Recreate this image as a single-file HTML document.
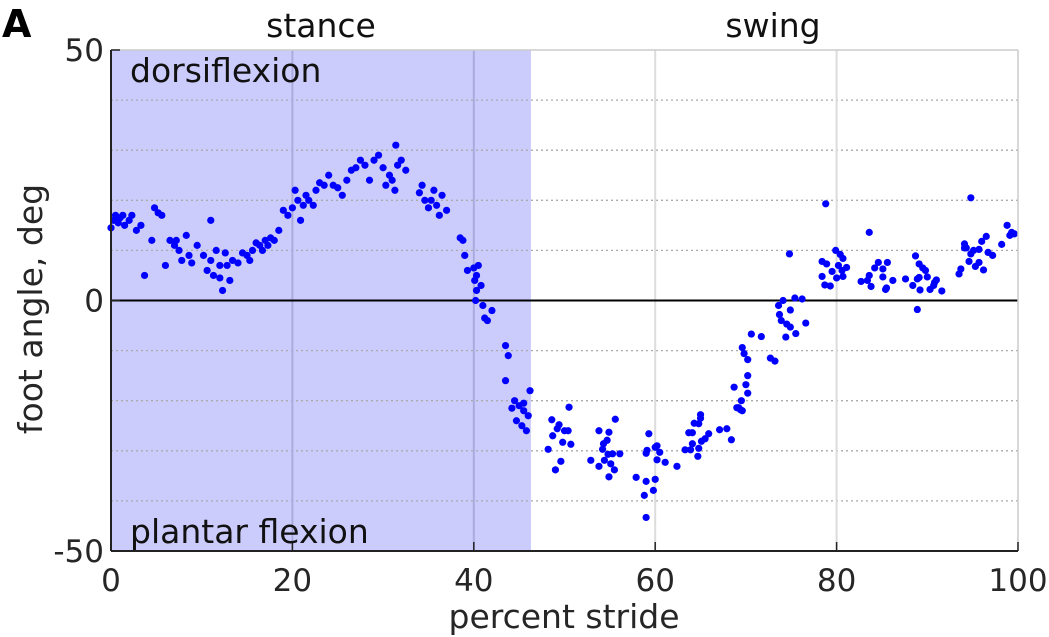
<!DOCTYPE html>
<html><head><meta charset="utf-8"><style>
body{margin:0;background:#fff;}
svg{display:block;font-family:"DejaVu Sans","Liberation Sans",sans-serif;}
</style></head><body>
<svg id="chart" width="1049" height="637" viewBox="0 0 1049 637">
<g id="bg"></g><g id="grid"></g><g id="dots"></g><g id="axes"></g>
</svg>
<script>
const xTicks=[0,20,40,60,80,100];
const yTickLabels=[50,0,-50];
const yGrid=[40,30,20,10,-10,-20,-30,-40];
const stanceEnd=46.3;
const xs=[0,0.3,0.5,0.8,1,1.3,1.5,2,2.3,2.8,3.3,3.7,4.5,4.8,5.2,5.6,6,6.5,7,7.2,7.5,7.8,8.3,8.6,8.9,9.5,10.2,10.6,11,11,11.3,11.6,12,12,12.3,12.6,12.8,13.1,13.4,14,14.5,15,15.3,15.6,16,16.4,16.7,17,17.3,17.6,18,18.5,19,19.5,20,20.3,20.6,20.9,21.2,21.5,21.8,22.3,22.6,23,23.5,24,24.5,25,25.5,26,26.5,27,27.5,28,28.5,29,29.5,30,30.3,30.7,31,31.3,31.6,32,32.5,31.4,34,34.3,34.6,35,35.3,35.6,35.9,36.2,36.5,37,38.5,38.8,39,39.3,40,40.3,40.5,40.1,40.3,40.2,40.8,41,41.2,41.5,42,43.5,43.8,43.5,44.5,45,45.5,46,46.2,45.3,44.7,45.8,45.5,44.2,
48.6,49.4,49.2,48.7,49.8,50.4,50.5,50.7,48.2,49.6,49,50,53.8,54.9,55.6,54.3,54.7,54.2,54.8,55.3,56.1,52.9,53.8,54.4,55.1,55.5,54.9,57.9,59,58.8,59.8,60,59,59.3,59.1,59,60,60.2,60.5,60.2,61.1,62.4,63.3,63.9,63.7,64.1,64.1,64.3,64.8,65,65,64.7,64.8,65.1,65.5,65.9,67.1,67.9,68.4,68.7,69,69.5,69.6,70,70.2,69.2,69.4,70.2,70.2,69.8,69.6,72.7,73.2,70.6,71.7,74.4,73.6,74.1,73.7,73.9,74.5,74.9,75.5,74.9,75.4,76.2,76.6,74.8,78.8,78.4,78.7,79.3,78.4,78.9,79.9,80.4,80.7,80.2,79.5,80,80.7,81.1,80.6,83.6,82.7,83.6,83.4,83.8,84.2,84.6,85.1,85.6,85.1,85.5,86.2,85.4,87.6,88.7,89.1,89.5,89.8,88.4,88.9,89.1,90,89.2,88.9,90.3,90.7,91,91.6,90.8,93.5,93.7,94.1,94.1,94.3,94.6,94.8,95.1,95.3,95.7,95.7,94.8,96,96.5,96.2,96.7,97.2,98.2,98.8,99.1,99.3,99.6];
const ys=[14.5,16,17,15.5,16.5,17,15,16,17,14,15,5,12,18.5,17.5,17,7,12,11,12,10,8,13,9,7.5,11,9,6,8,16,5,10,4.5,7,2,9.5,7,4,8,7.5,9.5,9,8,10,11.5,11,10,12,11,12.5,12,14,18,17,18.5,22,20,16,19,21,20,19,22,23.5,23,25,23,22.5,21,24,26,26.5,28,27,24,28,29,26.5,23,25,24,22,27,28,26,31,21.5,23,20,18.5,20,22,19,17,21,18,12.5,12,9,6,6.5,5,7,4,2,0,3,-1,-3.5,-4,-2,-9,-11,-16,-20,-21,-22,-23,-18,-25,-24,-26,-20.5,-21.5,
-23.8,-24.8,-25.6,-27,-28.3,-26,-21.3,-28.7,-29.7,-32.1,-33.8,-26,-26,-26.3,-23.7,-28.6,-27.9,-29.7,-30.7,-30.6,-30.6,-31.9,-33.1,-31.9,-32.6,-33.8,-35.2,-35.3,-36.1,-38.9,-37.9,-35.7,-43.3,-26.6,-29.9,-30.5,-29.3,-29,-30.3,-31.8,-32.3,-33.1,-29.8,-29.8,-26.4,-26.4,-28.6,-24.5,-24.6,-22.8,-23.5,-31.1,-29.5,-28.1,-27.6,-26.6,-25.8,-25.6,-27.8,-17.3,-21.4,-20,-22,-16.8,-18.5,-21.4,-21.8,-15,-11.8,-10.6,-9.4,-11.5,-12.1,-6.7,-7.2,-7.3,-1,0,-2.8,-4,-4.7,-5.3,-6.6,-1.9,0.5,0.3,-4.5,9.3,19.3,4.8,3.1,2.9,7.8,7.3,10,9.2,8.4,7,5.8,4.5,4.8,6.6,6,13.6,3.8,5,4,2.8,6.5,7.6,6.3,7.6,4.7,2.5,4,2.2,4.3,8.9,7.3,6.5,6,3,4.3,4.6,4.7,2.1,-1.8,2.2,3,4.1,1.9,3.6,5.3,6.3,11.3,10.5,10.5,7.8,9.3,10,6.8,7.6,10.2,20.5,11.8,12.8,6.1,9.6,9,11.2,15,13,13.6,13.3];
const L=111,R=1018,T=50,B=551;
const X=v=>L+(v/100)*(R-L);
const Y=v=>T+(50-v)/100*(B-T);
const NS="http://www.w3.org/2000/svg";
function mk(p,tag,a){const e=document.createElementNS(NS,tag);for(const k in a)e.setAttribute(k,a[k]);p.appendChild(e);return e;}
const bg=document.getElementById('bg'),grid=document.getElementById('grid'),dots=document.getElementById('dots'),axes=document.getElementById('axes');
let st=mk(bg,'rect',{x:L,y:T,width:X(stanceEnd)-L,height:B-T,fill:'#ccccfc'});


yGrid.forEach(v=>{let g=mk(grid,'line',{x1:L,x2:R,y1:Y(v),y2:Y(v),stroke:'#aaa','stroke-width':1.3,'stroke-dasharray':'2 3'});

});
xTicks.slice(1,-1).forEach(v=>{let g=mk(grid,'line',{x1:X(v),x2:X(v),y1:T,y2:B,stroke:v<stanceEnd?'#aaaadd':'#dcdcdc','stroke-width':2});

});
let z=mk(grid,'line',{x1:L,x2:R,y1:Y(0),y2:Y(0),stroke:'#000','stroke-width':2});


xs.forEach((x,i)=>{let c=mk(dots,'circle',{cx:X(x),cy:Y(ys[i]),r:3.6,fill:'#0000ff'});

});
mk(axes,'line',{x1:L,x2:R,y1:T,y2:T,stroke:'#ccc','stroke-width':1.5});
mk(axes,'line',{x1:R,x2:R,y1:T,y2:B,stroke:'#ccc','stroke-width':1.5});
mk(axes,'line',{x1:L,x2:R,y1:B,y2:B,stroke:'#222','stroke-width':2});
mk(axes,'line',{x1:L,x2:L,y1:T,y2:B,stroke:'#222','stroke-width':2});
xTicks.forEach(v=>{mk(axes,'line',{x1:X(v),x2:X(v),y1:B,y2:B-9,stroke:'#222','stroke-width':1.5});
let t=mk(axes,'text',{x:X(v),y:591,'text-anchor':'middle','font-size':31,fill:'#262626'});t.textContent=v;

});
yTickLabels.forEach(v=>{mk(axes,'line',{x1:L,x2:L+9,y1:Y(v),y2:Y(v),stroke:'#222','stroke-width':1.5});
let t=mk(axes,'text',{x:104,y:Y(v)+11,'text-anchor':'end','font-size':31,fill:'#262626'});t.textContent=v;

});
</script>
<svg style="position:absolute;left:0;top:0" width="1049" height="637">
<text x="2" y="37" font-size="38" font-weight="bold" fill="#000" font-family="DejaVu Sans, sans-serif">A</text>
<text x="321" y="37" font-size="33" text-anchor="middle" fill="#111" font-family="DejaVu Sans, sans-serif">stance</text>
<text x="773" y="37" font-size="33" text-anchor="middle" fill="#111" font-family="DejaVu Sans, sans-serif">swing</text>
<text x="130" y="82" font-size="33" fill="#111" font-family="DejaVu Sans, sans-serif">dorsiflexion</text>
<text x="130" y="543" font-size="33" fill="#111" font-family="DejaVu Sans, sans-serif">plantar flexion</text>
<text x="564" y="628" font-size="33" text-anchor="middle" fill="#262626" font-family="DejaVu Sans, sans-serif">percent stride</text>
<text transform="translate(42,309) rotate(-90)" font-size="33" text-anchor="middle" fill="#262626" font-family="DejaVu Sans, sans-serif">foot angle, deg</text>
</svg>
</body></html>
